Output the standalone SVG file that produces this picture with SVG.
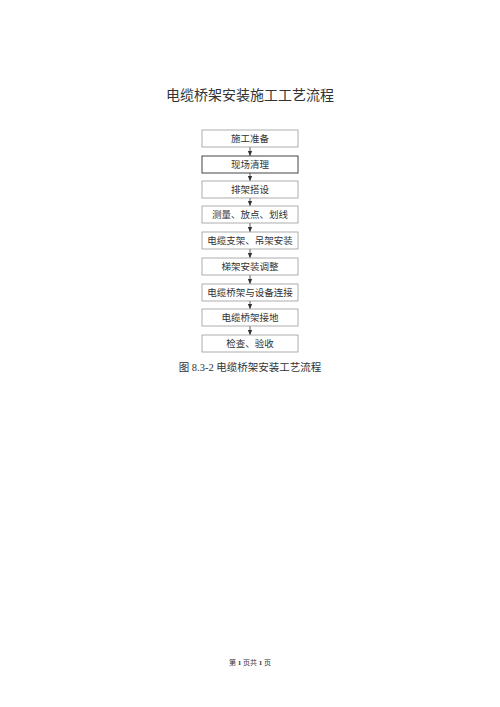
<svg xmlns="http://www.w3.org/2000/svg" width="500" height="707" viewBox="0 0 500 707">
<style>
.t{font-family:"Liberation Serif","Noto Sans CJK SC",serif;fill:#333;text-anchor:middle}
.b{fill:#fff;stroke:#999;stroke-width:0.8}
.bd{fill:#fff;stroke:#444;stroke-width:1}
.l{stroke:#333;stroke-width:0.8;fill:none}
.n{font-size:9.5px}
</style>
<defs>
<marker id="a" markerWidth="6" markerHeight="6" refX="5" refY="3" orient="auto" markerUnits="userSpaceOnUse">
<path d="M0,0.8 L5,3 L0,5.2 Z" fill="#333"/>
</marker>
</defs>
<rect width="500" height="707" fill="#fff"/>
<text class="t" x="250" y="100" font-size="14">电缆桥架安装施工工艺流程</text>
<g id="connectors">
<line class="l" x1="250" y1="147" x2="250" y2="156" marker-end="url(#a)"/>
<line class="l" x1="250" y1="173" x2="250" y2="181" marker-end="url(#a)"/>
<line class="l" x1="250" y1="198" x2="250" y2="206" marker-end="url(#a)"/>
<line class="l" x1="250" y1="223" x2="250" y2="232" marker-end="url(#a)"/>
<line class="l" x1="250" y1="249" x2="250" y2="258" marker-end="url(#a)"/>
<line class="l" x1="250" y1="275" x2="250" y2="284" marker-end="url(#a)"/>
<line class="l" x1="250" y1="301" x2="250" y2="309" marker-end="url(#a)"/>
<line class="l" x1="250" y1="326" x2="250" y2="335" marker-end="url(#a)"/>
</g>
<g id="n1"><rect class="b" x="202" y="130" width="96" height="17"/><text class="t n" x="250" y="142">施工准备</text></g>
<g id="n2"><rect class="bd" x="202" y="156" width="96" height="17"/><text class="t n" x="250" y="168">现场清理</text></g>
<g id="n3"><rect class="b" x="202" y="181" width="96" height="17"/><text class="t n" x="250" y="193">排架搭设</text></g>
<g id="n4"><rect class="b" x="202" y="206" width="96" height="17"/><text class="t n" x="250" y="218">测量、放点、划线</text></g>
<g id="n5"><rect class="b" x="202" y="232" width="96" height="17"/><text class="t n" x="250" y="244">电缆支架、吊架安装</text></g>
<g id="n6"><rect class="b" x="202" y="258" width="96" height="17"/><text class="t n" x="250" y="270">梯架安装调整</text></g>
<g id="n7"><rect class="b" x="202" y="284" width="96" height="17"/><text class="t n" x="250" y="296">电缆桥架与设备连接</text></g>
<g id="n8"><rect class="b" x="202" y="309" width="96" height="17"/><text class="t n" x="250" y="321">电缆桥架接地</text></g>
<g id="n9"><rect class="b" x="202" y="335" width="96" height="17"/><text class="t n" x="250" y="347">检查、验收</text></g>
<text class="t" x="250" y="371" font-size="10.5">图 8.3-2 电缆桥架安装工艺流程</text>
<text class="t" x="250" y="665" font-size="7">第 <tspan font-weight="bold">1</tspan> 页共 <tspan font-weight="bold">1</tspan> 页</text>
</svg>
